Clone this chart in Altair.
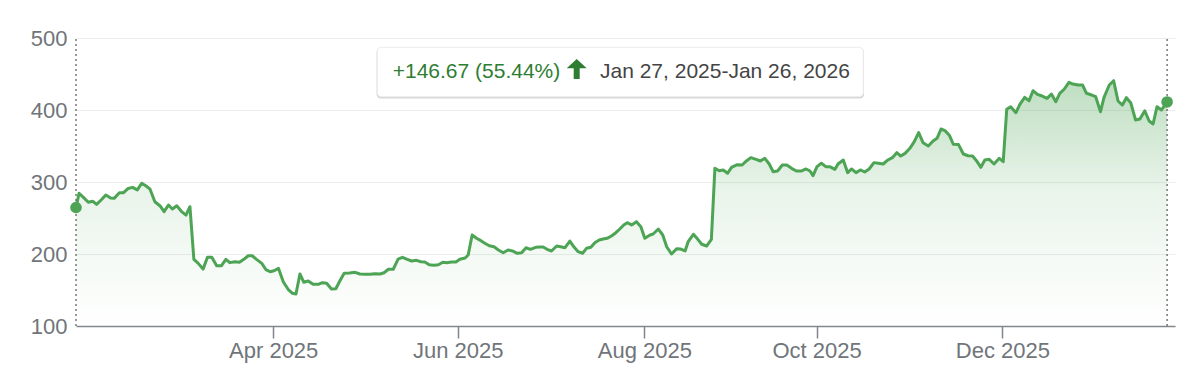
import altair as alt
import pandas as pd

# ---- data (trading sessions since Jan 27, 2025, and price) ----
sessions = [0, 0.7, 1.7, 2.8, 3.8, 4.7, 5.9, 6.8, 7.9, 8.7, 9.9, 10.8, 11.9, 12.9, 14.0, 15.0, 16.0, 16.9, 18.0, 19.2,
            20.1, 21.1, 22.0, 23.0, 24.1, 25.1, 26.0, 26.9, 27.9, 29.0, 30.0, 31.0, 32.1, 33.2, 34.2, 35.1, 36.3, 37.3, 38.3, 39.3,
            40.2, 41.2, 42.4, 43.4, 44.3, 45.2, 46.2, 47.3, 48.4, 49.4, 50.2, 51.1, 52.0, 53.0, 54.1, 55.3, 56.2, 57.2, 58.3, 59.3,
            60.2, 61.2, 62.4, 63.7, 64.8, 65.9, 67.1, 68.2, 69.4, 70.3, 71.3, 72.4, 73.5, 74.5, 75.6, 76.6, 77.7, 78.7, 79.6, 80.6,
            81.7, 82.7, 83.7, 84.6, 85.7, 86.7, 87.6, 88.8, 89.5, 90.4, 91.4, 92.4, 93.3, 94.3, 95.4, 96.4, 97.5, 98.6, 99.6, 100.7,
            101.7, 102.7, 103.7, 104.9, 106.0, 106.6, 107.5, 108.5, 109.7, 110.6, 111.6, 112.7, 113.7, 114.6, 115.6, 116.5, 117.5, 118.4, 119.4, 120.3,
            121.2, 122.2, 123.2, 124.1, 125.0, 125.8, 126.8, 127.9, 128.9, 129.8, 131.0, 131.7, 132.9, 133.9, 134.8, 135.9, 137.1, 138.0, 139.0, 139.7,
            140.9, 141.9, 142.8, 143.9, 145.0, 145.8, 146.8, 147.7, 148.7, 149.6, 150.9, 152.0, 153.0, 154.0, 155.2, 156.2, 157.2, 158.2, 159.1, 160.1,
            161.2, 162.2, 163.3, 164.4, 165.6, 166.6, 167.5, 168.2, 169.1, 170.1, 171.1, 172.0, 173.2, 173.9, 175.1, 176.1, 177.0, 178.0, 179.0, 180.0,
            181.0, 182.1, 183.1, 184.2, 185.3, 186.3, 187.3, 188.2, 189.2, 190.3, 191.3, 192.3, 193.3, 194.5, 195.6, 196.5, 197.4, 198.3, 199.3, 200.2,
            201.4, 202.5, 203.6, 204.6, 205.5, 206.5, 207.4, 208.4, 209.5, 210.7, 211.6, 212.4, 213.3, 214.5, 215.4, 216.5, 217.5, 218.4, 219.4, 220.5,
            221.6, 222.6, 223.6, 224.5, 225.5, 226.6, 227.5, 228.7, 229.7, 230.6, 231.8, 232.7, 233.8, 234.6, 235.8, 236.8, 237.8, 238.8, 239.7, 240.7,
            241.8, 242.8, 243.9, 244.9, 245.8, 246.7, 247.7, 249.0]
prices = [264.6, 284.3, 278.7, 271.8, 273.2, 269.0, 276.0, 282.0, 277.8, 277.3, 285.0, 285.0, 291.0, 292.6, 289.0, 298.2, 294.4, 290.0, 272.6, 266.7,
          258.8, 268.0, 262.5, 267.0, 258.8, 254.0, 265.7, 192.6, 187.0, 179.0, 195.4, 195.4, 183.8, 183.8, 192.6, 188.0, 189.3, 188.5, 192.6, 197.6,
          197.6, 192.6, 187.0, 177.8, 175.4, 176.8, 180.1, 161.5, 151.0, 145.4, 144.4, 172.2, 160.7, 162.5, 157.9, 157.9, 160.2, 159.3, 151.4, 151.8,
          162.5, 173.2, 173.6, 174.6, 172.2, 171.8, 171.8, 172.7, 172.2, 174.0, 178.8, 178.8, 193.0, 195.4, 192.6, 190.3, 191.2, 189.3, 188.9, 185.1,
          184.3, 185.1, 188.5, 187.9, 188.9, 188.9, 192.6, 194.4, 198.6, 226.4, 221.8, 218.5, 214.9, 211.5, 210.1, 205.6, 201.8, 205.6, 204.2, 201.0,
          201.8, 208.7, 206.5, 209.3, 209.7, 209.7, 206.5, 204.2, 211.1, 210.1, 208.7, 218.0, 209.3, 203.2, 201.0, 207.9, 209.3, 215.7, 219.4, 220.8,
          221.8, 225.0, 229.6, 234.7, 240.3, 243.5, 240.3, 244.9, 237.9, 221.8, 226.4, 227.8, 234.7, 226.4, 210.1, 200.0, 207.4, 206.9, 204.2, 217.1,
          227.4, 220.4, 213.5, 211.1, 220.4, 319.0, 315.7, 316.7, 312.1, 320.4, 324.0, 323.6, 329.2, 333.8, 331.5, 329.2, 332.9, 325.0, 314.3, 315.3,
          323.6, 323.6, 319.0, 315.3, 315.3, 318.1, 315.3, 308.8, 321.3, 326.0, 321.3, 321.3, 317.6, 325.0, 330.6, 313.0, 318.1, 313.0, 316.7, 313.9,
          318.1, 326.9, 326.0, 325.0, 330.6, 333.8, 340.7, 336.1, 339.8, 346.8, 356.0, 368.5, 354.6, 350.0, 356.9, 360.7, 373.6, 371.3, 365.0, 352.4,
          352.0, 338.9, 336.5, 336.1, 329.6, 320.4, 330.6, 331.5, 325.0, 332.9, 328.2, 401.0, 404.6, 396.3, 407.9, 417.6, 412.9, 426.8, 421.8, 419.4,
          416.2, 422.2, 411.5, 423.2, 428.8, 438.5, 436.1, 434.7, 434.7, 423.2, 420.8, 418.5, 397.6, 417.6, 434.7, 440.7, 412.5, 406.9, 417.1, 410.1,
          386.1, 387.5, 399.0, 384.7, 380.6, 404.6, 400.0, 411.2]
assert len(sessions) == len(prices)

tick_sessions = [45.0, 87.1, 129.7, 169.0, 211.4]
tick_labels = ["Apr 2025", "Jun 2025", "Aug 2025", "Oct 2025", "Dec 2025"]
y_ticks = [100, 200, 300, 400, 500]
change_text = ["+146.67 (55.44%)"]
range_text = ["Jan 27, 2025-Jan 26, 2026"]

# ---- styling ----
GREEN = "#4ca454"
DARK_GREEN = "#2e7d32"
AXIS_GRAY = "#80868b"
LABEL_GRAY = "#70757a"
FONT = "Liberation Sans"
W, H = 1099, 288
X_MAX = 250.8
ARROW = "M0,-1 L1,-0.07 L0.3,-0.07 L0.3,1 L-0.3,1 L-0.3,-0.07 L-1,-0.07 Z"

df = pd.DataFrame({"session": sessions, "price": prices})
ends = df.iloc[[0, -1]].reset_index(drop=True)
ann = pd.DataFrame({"t": change_text})
ann2 = pd.DataFrame({"t": range_text})

label_expr = " : ".join(f"abs(datum.value - {v}) < 0.5 ? '{l}'" for v, l in zip(tick_sessions, tick_labels)) + " : ''"

x_enc = alt.X(
    "session:Q",
    scale=alt.Scale(domain=[0, X_MAX], nice=False, zero=False),
    axis=alt.Axis(
        values=tick_sessions, labelExpr=label_expr, title=None, grid=False,
        ticks=True, tickSize=12, tickColor=AXIS_GRAY, tickWidth=1.5,
        domainColor=AXIS_GRAY, domainWidth=1.5,
        labelFont=FONT, labelFontSize=22, labelColor=LABEL_GRAY, labelPadding=2,
        labelFlush=False,
    ),
)
y_enc = alt.Y(
    "price:Q",
    scale=alt.Scale(domain=[100, 500], nice=False, zero=False),
    axis=alt.Axis(
        values=y_ticks, title=None, domain=False, ticks=False, grid=True,
        gridColor="#ededed", gridWidth=1,
        labelFont=FONT, labelFontSize=22, labelColor=LABEL_GRAY, labelPadding=9,
    ),
)

base = alt.Chart(df)

area = base.mark_area(
    color=alt.Gradient(
        gradient="linear",
        stops=[
            alt.GradientStop(color="rgba(76,164,84,0.36)", offset=0),
            alt.GradientStop(color="rgba(76,164,84,0.12)", offset=0.45),
            alt.GradientStop(color="rgba(76,164,84,0.0)", offset=1),
        ],
        x1=0, x2=0, y1=0, y2=1,
    )
).encode(x=x_enc, y=y_enc, y2=alt.datum(100))

line = base.mark_line(color=GREEN, strokeWidth=3, strokeJoin="round").encode(x="session:Q", y="price:Q")

rules = alt.Chart(ends).mark_rule(color="#777777", strokeWidth=1.5, strokeDash=[2, 3]).encode(
    x="session:Q", y=alt.datum(100), y2=alt.datum(500)
)

dots = alt.Chart(ends).mark_circle(size=135, color=GREEN, opacity=1).encode(x="session:Q", y="price:Q")

shadow = alt.Chart(ann).mark_rect(color="#d6d6d6", cornerRadius=4).encode(
    x=alt.value(300.6), x2=alt.value(788.0), y=alt.value(10.0), y2=alt.value(60.6)
)
box = alt.Chart(ann).mark_rect(color="white", stroke="#ececec", strokeWidth=1, cornerRadius=4).encode(
    x=alt.value(301.3), x2=alt.value(787.3), y=alt.value(9.3), y2=alt.value(58.7)
)
txt1 = alt.Chart(ann).mark_text(align="left", baseline="alphabetic", font=FONT, fontSize=21, color=DARK_GREEN).encode(
    x=alt.value(316.7), y=alt.value(39.7), text="t:N"
)
arrow = alt.Chart(ann).mark_point(shape=ARROW, filled=True, size=400, color=DARK_GREEN, opacity=1, strokeWidth=0).encode(
    x=alt.value(500.7), y=alt.value(31)
)
txt2 = alt.Chart(ann2).mark_text(align="left", baseline="alphabetic", font=FONT, fontSize=21, color="#444444").encode(
    x=alt.value(524), y=alt.value(39.7), text="t:N"
)

chart = alt.layer(area, line, rules, dots, shadow, box, txt1, arrow, txt2).properties(
    width=W, height=H,
    padding={"left": 68, "top": 30, "right": 10, "bottom": 40},
    autosize=alt.AutoSizeParams(type="none"),
    background="white",
).configure_view(stroke=None)

chart.save("out.html", embed_options={"renderer": "svg", "actions": False})
